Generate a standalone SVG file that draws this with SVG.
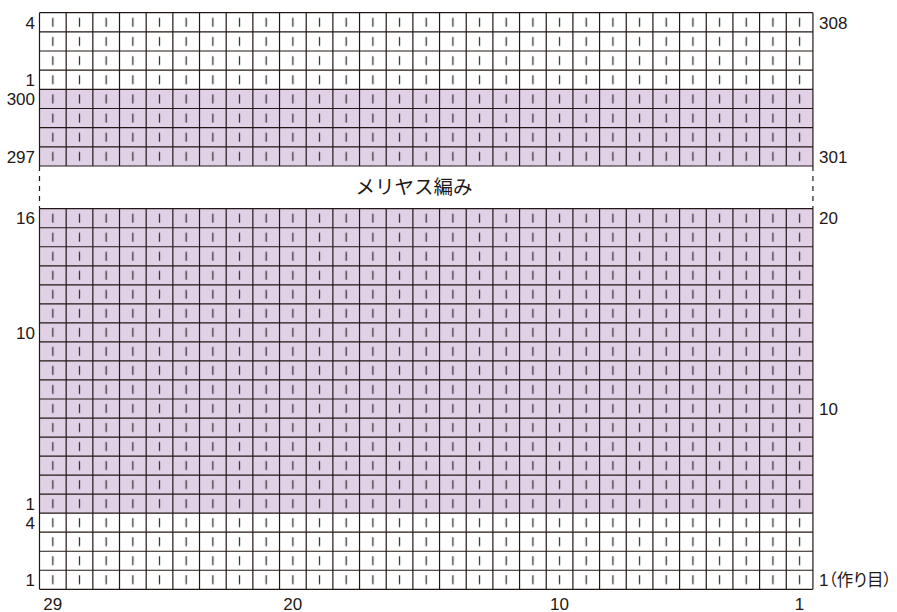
<svg xmlns="http://www.w3.org/2000/svg" width="897" height="612" viewBox="0 0 897 612">
<style>
.grid{fill:none;stroke:#231815;stroke-width:1.2}
.dash{fill:none;stroke:#231815;stroke-width:1.2;stroke-dasharray:5 5}
.lbl{font-family:"Liberation Sans","Noto Sans CJK JP",sans-serif;font-size:17px;fill:#231815}
.l{text-anchor:end}
.c{text-anchor:middle}
.jp{font-family:"Noto Sans CJK JP",sans-serif;font-size:19.5px;fill:#231815;text-anchor:middle}
.palt{font-family:"Noto Sans CJK JP",sans-serif;font-feature-settings:"palt";font-size:16.5px}
</style>
<defs>
<pattern id="stTop" patternUnits="userSpaceOnUse" x="39.5" y="12.7" width="26.67" height="19.16">
<line x1="13.335" y1="5.1" x2="13.335" y2="14.1" stroke="#333" stroke-width="1.3"/>
</pattern>
<pattern id="stBot" patternUnits="userSpaceOnUse" x="39.5" y="208.7" width="26.67" height="19.03">
<line x1="13.335" y1="5" x2="13.335" y2="14" stroke="#333" stroke-width="1.3"/>
</pattern>
</defs>
<rect width="897" height="612" fill="#fff"/>
<g id="top-block">
<rect x="39.5" y="89.34" width="773.43" height="76.64" fill="#e0d1e6"/>
<rect x="39.5" y="12.7" width="773.43" height="153.28" fill="url(#stTop)"/>
<path class="grid" d="M39.5 12.7H812.93M39.5 31.86H812.93M39.5 51.02H812.93M39.5 70.18H812.93M39.5 89.34H812.93M39.5 108.5H812.93M39.5 127.66H812.93M39.5 146.82H812.93M39.5 165.98H812.93
M39.5 12.7V165.98M66.17 12.7V165.98M92.84 12.7V165.98M119.51 12.7V165.98M146.18 12.7V165.98M172.85 12.7V165.98M199.52 12.7V165.98M226.19 12.7V165.98M252.86 12.7V165.98M279.53 12.7V165.98M306.2 12.7V165.98M332.87 12.7V165.98M359.54 12.7V165.98M386.21 12.7V165.98M412.88 12.7V165.98M439.55 12.7V165.98M466.22 12.7V165.98M492.89 12.7V165.98M519.56 12.7V165.98M546.23 12.7V165.98M572.9 12.7V165.98M599.57 12.7V165.98M626.24 12.7V165.98M652.91 12.7V165.98M679.58 12.7V165.98M706.25 12.7V165.98M732.92 12.7V165.98M759.59 12.7V165.98M786.26 12.7V165.98M812.93 12.7V165.98"/>
</g>
<g id="gap">
<path class="dash" d="M39.5 166V208.7M812.93 166V208.7"/>
<text class="jp" x="414" y="194">メリヤス編み</text>
</g>
<g id="bottom-block">
<rect x="39.5" y="208.7" width="773.43" height="304.48" fill="#e0d1e6"/>
<rect x="39.5" y="208.7" width="773.43" height="380.6" fill="url(#stBot)"/>
<path class="grid" d="M39.5 208.7H812.93M39.5 227.73H812.93M39.5 246.76H812.93M39.5 265.79H812.93M39.5 284.82H812.93M39.5 303.85H812.93M39.5 322.88H812.93M39.5 341.91H812.93M39.5 360.94H812.93M39.5 379.97H812.93M39.5 399H812.93M39.5 418.03H812.93M39.5 437.06H812.93M39.5 456.09H812.93M39.5 475.12H812.93M39.5 494.15H812.93M39.5 513.18H812.93M39.5 532.21H812.93M39.5 551.24H812.93M39.5 570.27H812.93M39.5 589.3H812.93
M39.5 208.7V589.3M66.17 208.7V589.3M92.84 208.7V589.3M119.51 208.7V589.3M146.18 208.7V589.3M172.85 208.7V589.3M199.52 208.7V589.3M226.19 208.7V589.3M252.86 208.7V589.3M279.53 208.7V589.3M306.2 208.7V589.3M332.87 208.7V589.3M359.54 208.7V589.3M386.21 208.7V589.3M412.88 208.7V589.3M439.55 208.7V589.3M466.22 208.7V589.3M492.89 208.7V589.3M519.56 208.7V589.3M546.23 208.7V589.3M572.9 208.7V589.3M599.57 208.7V589.3M626.24 208.7V589.3M652.91 208.7V589.3M679.58 208.7V589.3M706.25 208.7V589.3M732.92 208.7V589.3M759.59 208.7V589.3M786.26 208.7V589.3M812.93 208.7V589.3"/>
</g>
<g id="left-labels" class="lbl l">
<text x="35" y="28.5">4</text>
<text x="35" y="86">1</text>
<text x="35" y="105">300</text>
<text x="35" y="162.5">297</text>
<text x="35" y="224.3">16</text>
<text x="35" y="338.5">10</text>
<text x="35" y="509.8">1</text>
<text x="35" y="528.8">4</text>
<text x="35" y="585.9">1</text>
</g>
<g id="right-labels" class="lbl">
<text x="819" y="28.5">308</text>
<text x="819" y="162.5">301</text>
<text x="819" y="224.3">20</text>
<text x="819" y="414.6">10</text>
<text x="819" y="585.9">1<tspan class="palt">（作り目）</tspan></text>
</g>
<g id="bottom-labels" class="lbl c">
<text x="52.8" y="609.5">29</text>
<text x="292.8" y="609.5">20</text>
<text x="559.5" y="609.5">10</text>
<text x="799.6" y="609.5">1</text>
</g>
</svg>
